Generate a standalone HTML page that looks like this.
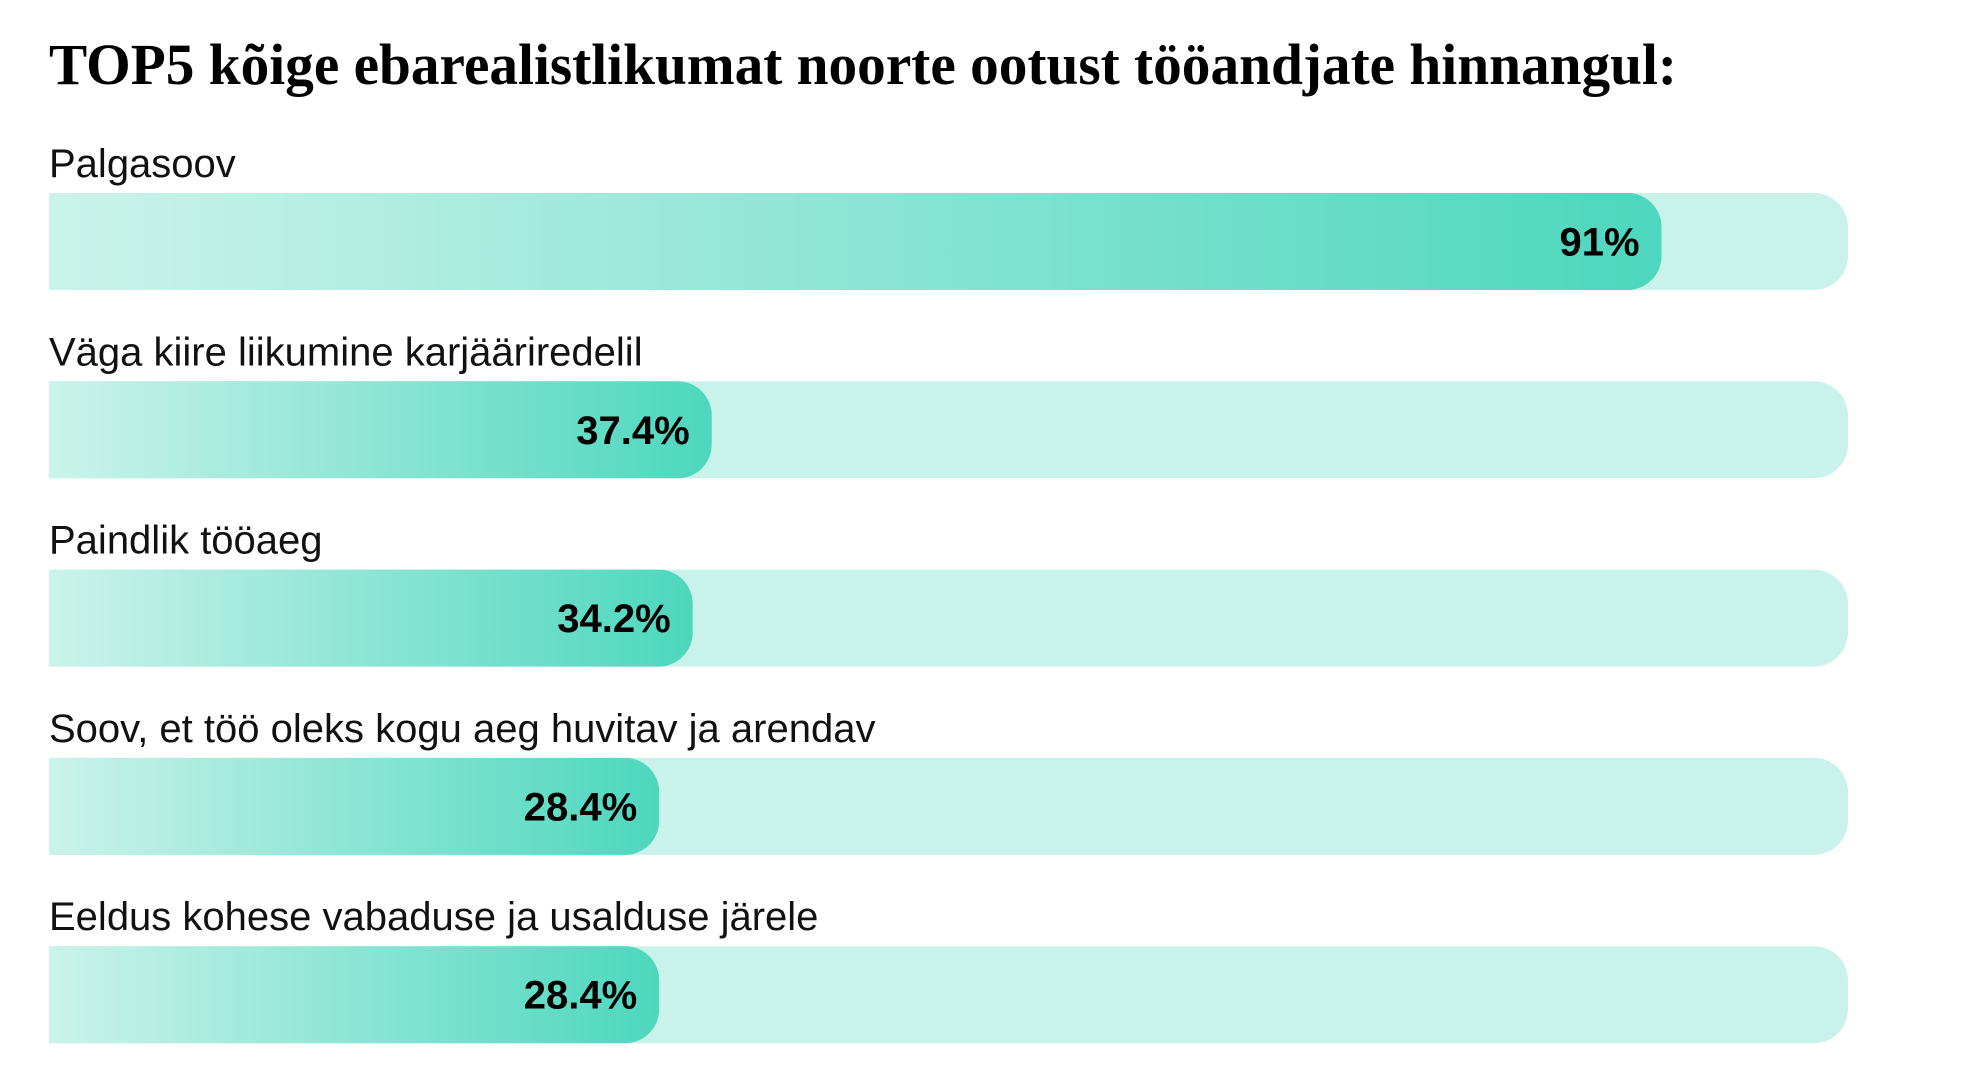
<!DOCTYPE html>
<html><head><meta charset="utf-8"><style>
html,body{margin:0;padding:0;background:#fff;width:1980px;height:1080px;overflow:hidden}
</style></head><body>
<svg id="chart" width="1980" height="1080" xmlns="http://www.w3.org/2000/svg">
<defs>
<linearGradient id="fillGrad" x1="0" y1="0" x2="1" y2="0">
<stop offset="0" stop-color="#cbf3ea"/><stop offset="1" stop-color="#4dd7be"/>
</linearGradient>
</defs>
<text x="49" y="84" font-family="Liberation Serif, serif" font-weight="bold" font-size="58" fill="#000" textLength="1628" lengthAdjust="spacingAndGlyphs">TOP5 kõige ebarealistlikumat noorte ootust tööandjate hinnangul:</text>
<g id="bars"></g>
</svg>
<script>
const categories = ["Palgasoov","Väga kiire liikumine karjääriredelil","Paindlik tööaeg","Soov, et töö oleks kogu aeg huvitav ja arendav","Eeldus kohese vabaduse ja usalduse järele"];
const values = [91, 37.4, 34.2, 28.4, 28.4];
const valueLabels = ["91%","37.4%","34.2%","28.4%","28.4%"];

const NS = "http://www.w3.org/2000/svg";
const x0 = 49, pxPer = 17.72, trackW = 1799, barH = 97, r = 34;
const xScale = v => v * pxPer;
// short bars get a minimum width so the label fits comfortably
const minW = v => 446 + 5.78 * v;
const barW = v => Math.max(xScale(v), minW(v));
const yTop = i => 193 + i * 188.3;
const g = document.getElementById('bars');
function mk(tag, attrs){const e=document.createElementNS(NS,tag);for(const k in attrs)e.setAttribute(k,attrs[k]);return e;}
function rightRounded(x,y,w,h,r){return `M${x},${y} H${x+w-r} A${r},${r} 0 0 1 ${x+w},${y+r} V${y+h-r} A${r},${r} 0 0 1 ${x+w-r},${y+h} H${x} Z`;}
categories.forEach((c,i)=>{
  const y = yTop(i);
  const lab = mk('text',{x:x0,y:y-16,'font-family':'Liberation Sans, sans-serif','font-size':40,fill:'#111'});
  
  
  lab.textContent = c; g.appendChild(lab);
  const track = mk('path',{d:rightRounded(x0,y,trackW,barH,r),fill:'#c9f3ea'});
  
  
  g.appendChild(track);
  const w = barW(values[i]);
  const bar = mk('path',{d:rightRounded(x0,y,w,barH,r),fill:'url(#fillGrad)'});
  
  
  g.appendChild(bar);
  const vl = mk('text',{x:x0+w-22,y:y+barH/2+14,'text-anchor':'end','font-family':'Liberation Sans, sans-serif','font-weight':'bold','font-size':40,fill:'#000'});
  
  
  vl.textContent = valueLabels[i]; g.appendChild(vl);
});
</script>
</body></html>
